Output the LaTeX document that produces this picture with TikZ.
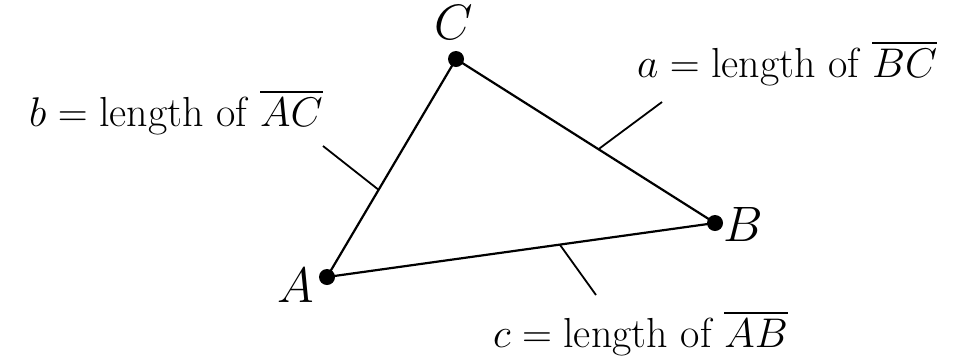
\documentclass[tikz,border=0pt]{standalone}
\usepackage{amsmath}
\usetikzlibrary{calc}
\begin{document}
\begin{tikzpicture}[x=0.5pt,y=-0.5pt,
  every node/.style={font=\fontsize{23}{28}\selectfont},
  sidelabel/.style={anchor=base west,font=\fontsize{21}{26}\selectfont},
  dot/.style={circle,fill=black,inner sep=0pt,minimum size=8pt},
  side/.style={line width=1.1pt},
  lead/.style={line width=0.9pt}]
  \useasboundingbox (0,0) rectangle (972,360);
  % vertices of the triangle
  \node[dot] (A) at (327,277) {};
  \node[dot] (B) at (715,223) {};
  \node[dot] (C) at (456,59) {};
  \node (lA) at (296,285) {$A$};
  \node (lB) at (743,224) {$B$};
  \node (lC) at (454,22) {$C$};
  \draw[side] (A.center) -- (B.center) -- (C.center) -- cycle;
  % side labels and their leaders
  \node[sidelabel] (lb) at (22,126) {$b = \text{length of } \overline{AC}$};
  \node[sidelabel] (la) at (630,77) {$a = \text{length of } \overline{BC}$};
  \node[sidelabel] (lc) at (486,347) {$c = \text{length of } \overline{AB}$};
  \coordinate (tb) at (323,146);
  \coordinate (ta) at (662,102);
  \coordinate (tc) at (596,295);
  \draw[lead] (tb) -- ($(A.center)!0.40!(C.center)$);
  \draw[lead] (ta) -- ($(C.center)!0.55!(B.center)$);
  \draw[lead] (tc) -- ($(A.center)!0.60!(B.center)$);
\end{tikzpicture}
\end{document}
